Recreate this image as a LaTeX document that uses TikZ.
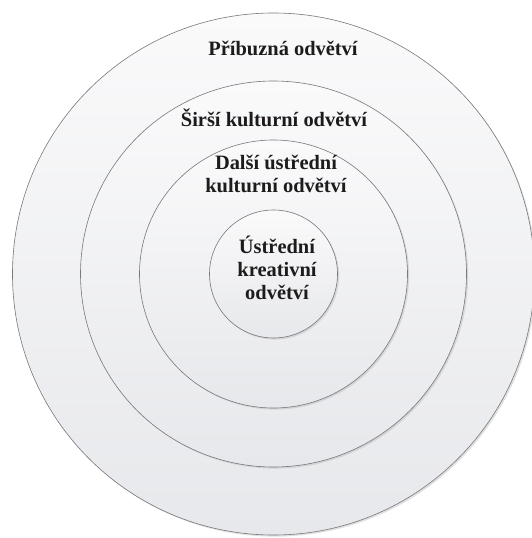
\documentclass[tikz,border=0pt]{standalone}
\usepackage{fontspec}
\setmainfont{Liberation Serif}
\usetikzlibrary{shadows}
\definecolor{ringline}{RGB}{120,120,124}
\definecolor{filltop}{RGB}{250,250,251}
\definecolor{fillbot}{RGB}{231,232,235}
\definecolor{txt}{RGB}{30,27,28}
\tikzset{
  ring/.style={circle, draw=ringline, line width=0.6bp, inner sep=0pt,
    top color=filltop, bottom color=fillbot,
    drop shadow={shadow xshift=1.6bp, shadow yshift=-1.6bp, fill=black!30, opacity=0.4}},
  lbl/.style={font=\fontsize{20.5}{23.3}\selectfont\bfseries, text=txt, align=center, inner sep=0pt}
}
\begin{document}
\begin{tikzpicture}[x=1bp,y=-1bp]
\useasboundingbox[fill=white] (0,0) rectangle (532,538);
\node[ring, minimum size=522bp] (r1) at (273.5,274) {};
\node[ring, minimum size=386bp] (r2) at (273.5,274) {};
\node[ring, minimum size=268bp] (r3) at (273.5,274) {};
\node[ring, minimum size=128bp] (r4) at (273.5,274) {};
\node[lbl] (t1) at (283,48) {Příbuzná odvětví};
\node[lbl] (t2) at (274,118) {Širší kulturní odvětví};
\node[lbl] (t3) at (276,174) {Další ústřední\\kulturní odvětví};
\node[lbl] (t4) at (277,268) {Ústřední\\kreativní\\odvětví};
\end{tikzpicture}
\end{document}
